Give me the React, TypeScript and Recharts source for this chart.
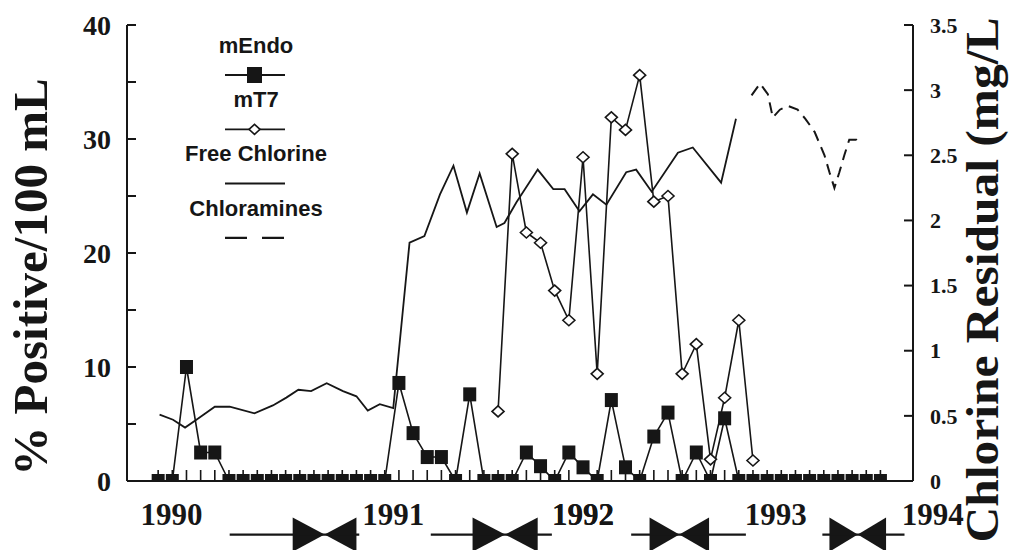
import React from 'react';
import {
  ComposedChart,
  Label,
  Legend,
  Line,
  ReferenceArea,
  ReferenceLine,
  XAxis,
  YAxis,
} from 'recharts';

// sampling periods (4-week intervals from Jan 1990)
const periods = [
  0, 1, 2, 3, 4, 5, 6, 7, 8, 9, 10, 11, 12, 13, 14, 15, 16, 17, 18, 19, 20, 21,
  22, 23, 24, 25, 26, 27, 28, 29, 30, 31, 32, 33, 34, 35, 36, 37, 38, 39, 40,
  41, 42, 43, 44, 45, 46, 47, 48, 49, 50, 51,
];

// % positive / 100 mL
const mEndo = [
  0, 0, 10, 2.5, 2.5, 0, 0, 0, 0, 0, 0, 0, 0, 0, 0, 0, 0, 8.6, 4.2, 2.1, 2.1, 0,
  7.6, 0, 0, 0, 2.5, 1.3, 0, 2.5, 1.2, 0, 7.1, 1.2, 0, 3.9, 6.0, 0, 2.5, 0, 5.5,
  0, 0, 0, 0, 0, 0, 0, 0, 0, 0, 0,
];

const mT7 = [
  null, null, null, null, null, null, null, null, null, null, null, null, null,
  null, null, null, null, null, null, null, null, null, null, null, 6.1, 28.7,
  21.8, 20.9, 16.7, 14.1, 28.4, 9.4, 31.9, 30.8, 35.6, 24.5, 25.0, 9.4, 12.0,
  1.9, 7.3, 14.1, 1.8, null, null, null, null, null, null, null, null, null,
];

// chlorine residual, mg/L
const freeClT = [
  0.1, 1.05, 1.9, 2.7, 4.0, 5.05, 6.8, 8.1, 9.05, 9.9, 10.8, 11.9, 13.05, 14.0,
  14.8, 15.65, 16.6, 17.75, 18.8, 19.9, 20.85, 21.8, 22.7, 23.9, 24.45, 25.3,
  26.8, 27.9, 28.7, 29.75, 30.7, 31.65, 33.05, 33.75, 34.85, 36.7, 37.75, 39.75,
  40.8,
];
const freeCl = [
  0.51, 0.47, 0.41, 0.47, 0.57, 0.57, 0.52, 0.58, 0.64, 0.7, 0.69, 0.75, 0.69,
  0.65, 0.54, 0.59, 0.56, 1.83, 1.88, 2.2, 2.42, 2.06, 2.36, 1.95, 1.98, 2.14,
  2.39, 2.24, 2.24, 2.07, 2.2, 2.12, 2.37, 2.39, 2.22, 2.52, 2.56, 2.29, 2.78,
];

const chloraminesT = [
  41.9, 42.5, 43.05, 43.4, 43.9, 44.45, 45.15, 45.7, 46.35, 47.05, 47.4, 47.75,
  48.1, 48.45, 48.8, 49.3, 49.65,
];
const chloramines = [
  2.96, 3.05, 2.97, 2.79, 2.85, 2.88, 2.85, 2.78, 2.68, 2.5, 2.37, 2.25, 2.37,
  2.5, 2.62, 2.62, 2.59,
];

const yearTicks = [0.95, 16.6, 30.0, 43.6, 54.7];
const yearLabels = ['1990', '1991', '1992', '1993', '1994'];

// seasonal markers under the axis
const seasonLineStart = [5.05, 19.25, 33.4, 46.9];
const seasonBowStart = [9.5, 22.2, 34.7, 47.4];
const seasonBowEnd = [14.0, 26.8, 38.9, 51.4];
const seasonLineEnd = [14.2, 27.8, 41.5, 52.7];

const pctTicks = [0, 5, 10, 15, 20, 25, 30, 35, 40];
const clTicks = [0, 0.5, 1, 1.5, 2, 2.5, 3, 3.5];

const legendOrder = ['mEndo', 'mT7', 'Free Chlorine', 'Chloramines'];

const SERIF = '"Liberation Serif", "Times New Roman", serif';
const SANS = '"Liberation Sans", Arial, sans-serif';
const INK = '#161616';

const endoData = periods.map((t, i) => ({ t, v: mEndo[i] }));
const t7Data = periods.map((t, i) => ({ t, v: mT7[i] }));
const freeData = freeClT.map((t, i) => ({ t, v: freeCl[i] }));
const chloraData = chloraminesT.map((t, i) => ({ t, v: chloramines[i] }));
const bottomTicks = [...periods, ...yearTicks].sort((a, b) => a - b);

const SquareDot = (props: any) => {
  const { cx, cy, value, index } = props;
  if (value == null || cx == null || cy == null) return <g key={`s${index}`} />;
  return (
    <rect key={`s${index}`} x={cx - 6.5} y={cy - 7} width={13} height={14} fill={INK} />
  );
};

const DiamondDot = (props: any) => {
  const { cx, cy, value, index } = props;
  if (value == null || cx == null || cy == null) return <g key={`d${index}`} />;
  return (
    <polygon
      key={`d${index}`}
      points={`${cx - 6},${cy} ${cx},${cy - 5.5} ${cx + 6},${cy} ${cx},${cy + 5.5}`}
      fill="#fff"
      stroke={INK}
      strokeWidth={1.6}
    />
  );
};

const LeftTick = ({ x, y, payload }: any) => (
  <g>
    <line x1={x} x2={x + 9} y1={y} y2={y} stroke={INK} strokeWidth={2} />
    {payload.value % 10 === 0 && (
      <text
        x={x - 16}
        y={y}
        dy="0.35em"
        textAnchor="end"
        fontFamily={SERIF}
        fontWeight="bold"
        fontSize={28}
        fill={INK}
      >
        {payload.value}
      </text>
    )}
  </g>
);

const RightTick = ({ x, y, payload }: any) => (
  <g>
    <line x1={x - 9} x2={x} y1={y} y2={y} stroke={INK} strokeWidth={2} />
    <text
      x={x + 17}
      y={y}
      dy="0.35em"
      textAnchor="start"
      fontFamily={SERIF}
      fontWeight="bold"
      fontSize={22}
      fill={INK}
    >
      {String(payload.value)}
    </text>
  </g>
);

// bottom axis: small sample ticks inside the frame, year labels below
const BottomTick = ({ x, y, payload }: any) => {
  const yi = yearTicks.indexOf(payload.value);
  if (yi >= 0) {
    return (
      <text
        x={x}
        y={y + 44}
        textAnchor="middle"
        fontFamily={SERIF}
        fontWeight="bold"
        fontSize={31}
        fill={INK}
      >
        {yearLabels[yi]}
      </text>
    );
  }
  return <line x1={x} x2={x} y1={y} y2={y - 11} stroke={INK} strokeWidth={1.6} />;
};

const BowTie = ({ x, y, width, height }: any) => {
  const mx = x + width / 2;
  const my = y + height / 2;
  return (
    <g fill={INK}>
      <polygon points={`${x},${y} ${x},${y + height} ${mx},${my}`} />
      <polygon points={`${x + width},${y} ${x + width},${y + height} ${mx},${my}`} />
    </g>
  );
};

const renderLegend = (props: any) => {
  const payload = props.payload || [];
  const items = legendOrder.map(
    (name) => payload.find((p: any) => p.value === name) || { value: name },
  );
  return (
    <svg width={166} height={236}>
      {items.map((it: any, i: number) => {
        const ty = 31 + 54.3 * i;
        const sy = 61 + 54.3 * i;
        let symbol = null;
        if (it.value === 'mEndo') {
          symbol = (
            <g>
              <line x1={53} x2={113} y1={sy} y2={sy} stroke={INK} strokeWidth={1.8} />
              <rect x={75} y={sy - 8} width={15} height={16} fill={INK} />
            </g>
          );
        } else if (it.value === 'mT7') {
          symbol = (
            <g>
              <line x1={53} x2={113} y1={sy} y2={sy} stroke={INK} strokeWidth={1.8} />
              <polygon
                points={`${77},${sy} ${82.5},${sy - 5} ${88},${sy} ${82.5},${sy + 5}`}
                fill="#fff"
                stroke={INK}
                strokeWidth={1.6}
              />
            </g>
          );
        } else if (it.value === 'Free Chlorine') {
          symbol = <line x1={53} x2={113} y1={sy} y2={sy} stroke={INK} strokeWidth={2} />;
        } else {
          symbol = (
            <line
              x1={53}
              x2={113}
              y1={sy}
              y2={sy}
              stroke={INK}
              strokeWidth={2.2}
              strokeDasharray="22 15"
            />
          );
        }
        return (
          <g key={it.value}>
            <text
              x={84}
              y={ty}
              dy="0.35em"
              textAnchor="middle"
              fontFamily={SANS}
              fontWeight="bold"
              fontSize={22}
              fill={INK}
            >
              {it.value}
            </text>
            {symbol}
          </g>
        );
      })}
    </svg>
  );
};

const LeftTitle = ({ viewBox }: any) => {
  const x = viewBox.x + 47;
  const y = viewBox.y + viewBox.height / 2 + 24;
  return (
    <text
      x={x}
      y={y}
      transform={`rotate(-90, ${x}, ${y})`}
      textAnchor="middle"
      fontFamily={SERIF}
      fontWeight="bold"
      fontSize={49}
      fill={INK}
    >
      % Positive/100 mL
    </text>
  );
};

const RightTitle = ({ viewBox }: any) => {
  const x = viewBox.x + 85;
  const y = viewBox.y + viewBox.height / 2 + 27;
  return (
    <text
      x={x}
      y={y}
      transform={`rotate(-90, ${x}, ${y})`}
      textAnchor="middle"
      fontFamily={SERIF}
      fontWeight="bold"
      fontSize={46}
      textLength={525}
      lengthAdjust="spacingAndGlyphs"
      fill={INK}
    >
      Chlorine Residual (mg/L
    </text>
  );
};

export default function App() {
  const xDomain = [-2.2, 53.3];
  return (
    <div style={{ position: 'absolute', left: 0, top: 0, width: 1010, height: 550, background: '#fff' }}>
      <ComposedChart width={1010} height={550} margin={{ top: 25, right: 0, bottom: 0, left: 0 }}>
        <XAxis
          xAxisId="top"
          orientation="top"
          type="number"
          domain={xDomain}
          allowDataOverflow
          height={0}
          tick={false}
          tickLine={false}
          axisLine={{ stroke: INK, strokeWidth: 2 }}
        />
        <XAxis
          xAxisId="t"
          dataKey="t"
          type="number"
          domain={xDomain}
          allowDataOverflow
          ticks={bottomTicks}
          interval={0}
          height={69}
          tickSize={0}
          tickMargin={0}
          tickLine={false}
          tick={<BottomTick />}
          axisLine={{ stroke: INK, strokeWidth: 2 }}
        />
        <YAxis
          yAxisId="pct"
          type="number"
          domain={[0, 40]}
          allowDataOverflow
          ticks={pctTicks}
          interval={0}
          width={127}
          tickSize={0}
          tickMargin={0}
          tickLine={false}
          tick={<LeftTick />}
          axisLine={{ stroke: INK, strokeWidth: 2 }}
        >
          <Label content={<LeftTitle />} />
        </YAxis>
        <YAxis
          yAxisId="cl"
          orientation="right"
          type="number"
          domain={[0, 3.5]}
          allowDataOverflow
          ticks={clTicks}
          interval={0}
          width={97}
          tickSize={0}
          tickMargin={0}
          tickLine={false}
          tick={<RightTick />}
          axisLine={{ stroke: INK, strokeWidth: 2 }}
        >
          <Label content={<RightTitle />} />
        </YAxis>

        {seasonLineStart.map((s, i) => (
          <ReferenceLine
            key={`sl${i}`}
            xAxisId="t"
            yAxisId="pct"
            ifOverflow="visible"
            segment={[
              { x: s, y: -4.7 },
              { x: seasonLineEnd[i], y: -4.7 },
            ]}
            stroke={INK}
            strokeWidth={2.2}
          />
        ))}
        {seasonBowStart.map((s, i) => (
          <ReferenceArea
            key={`sb${i}`}
            xAxisId="t"
            yAxisId="pct"
            ifOverflow="visible"
            x1={s}
            x2={seasonBowEnd[i]}
            y1={-6.2}
            y2={-3.2}
            shape={<BowTie />}
          />
        ))}

        <Line
          name="Free Chlorine"
          data={freeData}
          dataKey="v"
          xAxisId="t"
          yAxisId="cl"
          type="linear"
          stroke={INK}
          strokeWidth={1.8}
          dot={false}
          isAnimationActive={false}
        />
        <Line
          name="Chloramines"
          data={chloraData}
          dataKey="v"
          xAxisId="t"
          yAxisId="cl"
          type="linear"
          stroke={INK}
          strokeWidth={2}
          strokeDasharray="11 7"
          dot={false}
          isAnimationActive={false}
        />
        <Line
          name="mT7"
          data={t7Data}
          dataKey="v"
          xAxisId="t"
          yAxisId="pct"
          type="linear"
          stroke={INK}
          strokeWidth={1.6}
          connectNulls={false}
          dot={DiamondDot}
          activeDot={false}
          isAnimationActive={false}
        />
        <Line
          name="mEndo"
          data={endoData}
          dataKey="v"
          xAxisId="t"
          yAxisId="pct"
          type="linear"
          stroke={INK}
          strokeWidth={1.6}
          dot={SquareDot}
          activeDot={false}
          isAnimationActive={false}
        />
        <Legend
          layout="vertical"
          align="center"
          verticalAlign="middle"
          width={166}
          height={236}
          content={renderLegend}
          wrapperStyle={{ left: 172, top: 14, width: 166, height: 236, background: '#fff' }}
        />
      </ComposedChart>
    </div>
  );
}
